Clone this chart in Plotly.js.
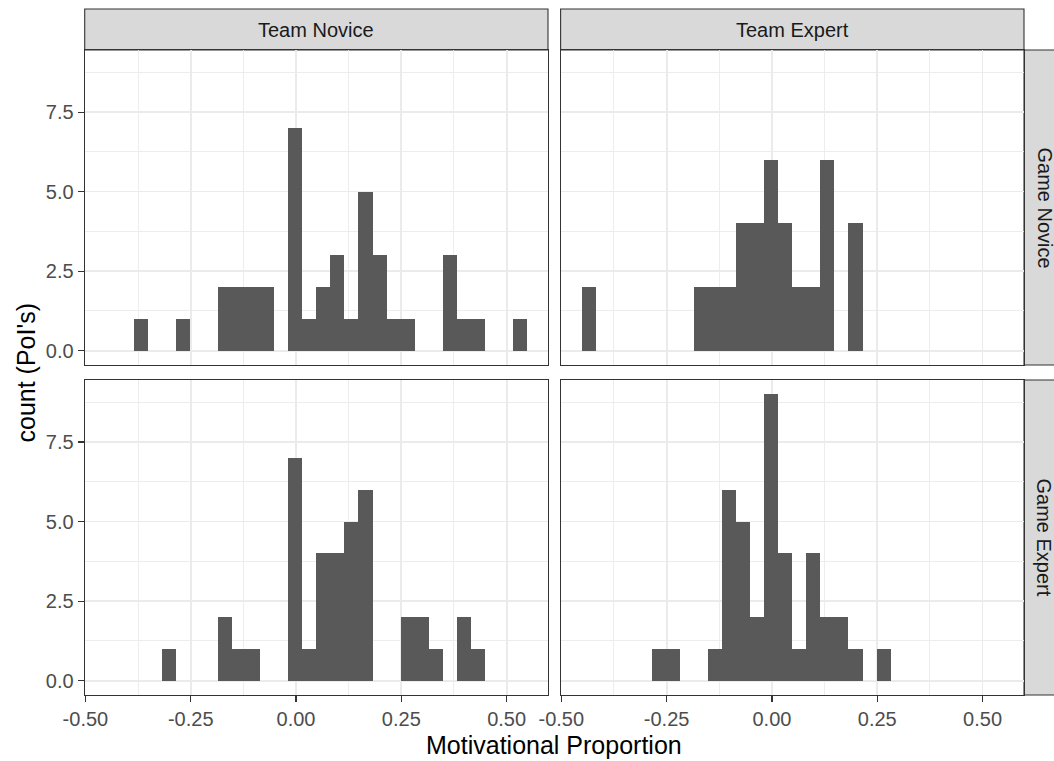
<!DOCTYPE html>
<html>
<head>
<meta charset="utf-8">
<script src="https://cdn.plot.ly/plotly-3.0.1.min.js"></script>
<style>
  html, body { margin: 0; padding: 0; background: #ffffff; }
  #chart { width: 1054px; height: 761px; }
</style>
</head>
<body>
<div id="chart"></div>
<script>
// ---- data ----
var binCenters = [-0.4350, -0.4017, -0.3683, -0.3350, -0.3017, -0.2683, -0.2350, -0.2017,
                  -0.1683, -0.1350, -0.1017, -0.0683, -0.0350, -0.0017, 0.0317, 0.0650,
                  0.0983, 0.1317, 0.1650, 0.1983, 0.2317, 0.2650, 0.2983, 0.3317,
                  0.3650, 0.3983, 0.4317, 0.4650, 0.4983, 0.5317];
var binWidth = 0.033333;

var teamNoviceGameNovice = [0,0,1,0,0,1,0,0,2,2,2,2,0,7,1,2,3,1,5,3,1,1,0,0,3,1,1,0,0,1];
var teamExpertGameNovice = [2,0,0,0,0,0,0,0,2,2,2,4,4,6,4,2,2,6,0,4,0,0,0,0,0,0,0,0,0,0];
var teamNoviceGameExpert = [0,0,0,0,1,0,0,0,2,1,1,0,0,7,1,4,4,5,6,0,0,2,2,1,0,2,1,0,0,0];
var teamExpertGameExpert = [0,0,0,0,0,1,1,0,0,1,6,5,2,9,4,1,4,2,2,1,0,1,0,0,0,0,0,0,0,0];

var colLabels = ["Team Novice", "Team Expert"];
var rowLabels = ["Game Novice", "Game Expert"];

var xTickVals = [-0.5, -0.25, 0, 0.25, 0.5];
var xTickText = ["-0.50", "-0.25", "0.00", "0.25", "0.50"];
var xMinorVals = [-0.375, -0.125, 0.125, 0.375];
var yTickVals = [0, 2.5, 5, 7.5];
var yTickText = ["0.0", "2.5", "5.0", "7.5"];
var yMinorVals = [1.25, 3.75, 6.25, 8.75];

var xTitle = "Motivational Proportion";
var yTitle = "count (PoI's)";

// ---- layout helpers ----
var W = 1054, H = 761;
function px(v) { return v / W; }
function py(v) { return 1 - v / H; }

var colPx = [[84.7, 548.0], [560.6, 1024.0]];
var rowPx = [[50.0, 365.0], [380.0, 695.0]];
var stripTop = 9.0;
var stripRight = 1066;

var FONT = "Liberation Sans, Arial, Helvetica, sans-serif";
var barColor = "#595959";

var panels = [
  {counts: teamNoviceGameNovice, col: 0, row: 0},
  {counts: teamExpertGameNovice, col: 1, row: 0},
  {counts: teamNoviceGameExpert, col: 0, row: 1},
  {counts: teamExpertGameExpert, col: 1, row: 1}
];

var traces = [];
var layout = {
  width: W, height: H,
  margin: {l: 0, r: 0, t: 0, b: 0},
  paper_bgcolor: "#ffffff",
  plot_bgcolor: "#ffffff",
  showlegend: false,
  bargap: 0,
  font: {family: FONT, color: "#4D4D4D"},
  shapes: [],
  annotations: []
};

panels.forEach(function (p, i) {
  var n = i + 1;
  var xa = n === 1 ? "x" : "x" + n;
  var ya = n === 1 ? "y" : "y" + n;
  traces.push({
    type: "bar",
    x: binCenters,
    y: p.counts,
    width: binWidth,
    xaxis: xa, yaxis: ya,
    marker: {color: barColor, line: {width: 0}},
    hoverinfo: "x+y"
  });
  var isBottom = p.row === 1;
  var isLeft = p.col === 0;
  var xKey = n === 1 ? "xaxis" : "xaxis" + n;
  var yKey = n === 1 ? "yaxis" : "yaxis" + n;
  layout[xKey] = {
    domain: [px(colPx[p.col][0]), px(colPx[p.col][1])],
    anchor: ya,
    range: [-0.5017, 0.5983],
    showline: true, mirror: true, linecolor: "#333333", linewidth: 1.1,
    showgrid: true, gridcolor: "#EBEBEB", gridwidth: 1.8,
    zeroline: false,
    tickmode: "array", tickvals: xTickVals, ticktext: xTickText,
    showticklabels: isBottom,
    ticks: isBottom ? "outside" : "",
    ticklen: 6, tickwidth: 1.1, tickcolor: "#333333",
    tickfont: {family: FONT, size: 20, color: "#4D4D4D"},
    minor: {tickmode: "array", tickvals: xMinorVals, showgrid: true,
            gridcolor: "#EBEBEB", gridwidth: 0.9, ticks: ""},
    fixedrange: true
  };
  layout[yKey] = {
    domain: [py(rowPx[p.row][1]), py(rowPx[p.row][0])],
    anchor: xa,
    range: [-0.45, 9.45],
    showline: true, mirror: true, linecolor: "#333333", linewidth: 1.1,
    showgrid: true, gridcolor: "#EBEBEB", gridwidth: 1.8,
    zeroline: false,
    tickmode: "array", tickvals: yTickVals, ticktext: yTickText,
    showticklabels: isLeft,
    ticks: isLeft ? "outside" : "",
    ticklen: 6, tickwidth: 1.1, tickcolor: "#333333",
    tickfont: {family: FONT, size: 20, color: "#4D4D4D"},
    minor: {tickmode: "array", tickvals: yMinorVals, showgrid: true,
            gridcolor: "#EBEBEB", gridwidth: 0.9, ticks: ""},
    fixedrange: true
  };
});

// top strips
colLabels.forEach(function (lab, c) {
  layout.shapes.push({
    type: "rect", xref: "paper", yref: "paper",
    x0: px(colPx[c][0]), x1: px(colPx[c][1]),
    y0: py(rowPx[0][0]), y1: py(stripTop),
    fillcolor: "#D9D9D9", line: {color: "#333333", width: 1.1}, layer: "below"
  });
  layout.annotations.push({
    xref: "paper", yref: "paper",
    x: px((colPx[c][0] + colPx[c][1]) / 2), y: py((stripTop + rowPx[0][0]) / 2),
    text: lab, showarrow: false, xanchor: "center", yanchor: "middle",
    font: {family: FONT, size: 20, color: "#1A1A1A"}
  });
});

// right strips
rowLabels.forEach(function (lab, r) {
  layout.shapes.push({
    type: "rect", xref: "paper", yref: "paper",
    x0: px(colPx[1][1]), x1: px(stripRight),
    y0: py(rowPx[r][1]), y1: py(rowPx[r][0]),
    fillcolor: "#D9D9D9", line: {color: "#333333", width: 1.1}, layer: "below"
  });
  layout.annotations.push({
    xref: "paper", yref: "paper",
    x: px(1044), y: py((rowPx[r][0] + rowPx[r][1]) / 2),
    text: lab, showarrow: false, xanchor: "center", yanchor: "middle",
    textangle: 90,
    font: {family: FONT, size: 20, color: "#1A1A1A"}
  });
});

// axis titles
layout.annotations.push({
  xref: "paper", yref: "paper",
  x: px((colPx[0][0] + colPx[1][1]) / 2), y: py(745),
  text: xTitle, showarrow: false, xanchor: "center", yanchor: "middle",
  font: {family: FONT, size: 25, color: "#000000"}
});
layout.annotations.push({
  xref: "paper", yref: "paper",
  x: px(25), y: py((rowPx[0][0] + rowPx[1][1]) / 2),
  text: yTitle, showarrow: false, xanchor: "center", yanchor: "middle",
  textangle: -90,
  font: {family: FONT, size: 25, color: "#000000"}
});

Plotly.newPlot("chart", traces, layout, {displayModeBar: false, staticPlot: true});
</script>
</body>
</html>
